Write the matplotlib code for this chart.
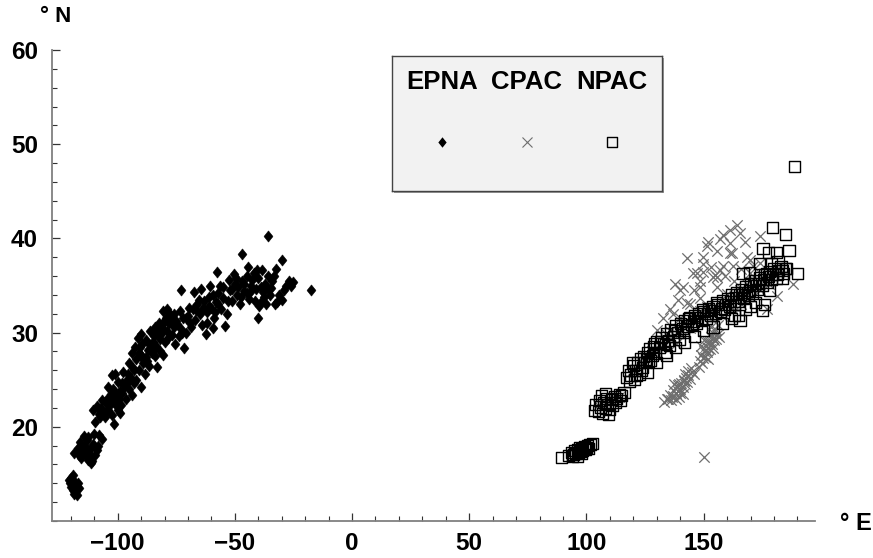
import matplotlib
matplotlib.use("Agg")
import matplotlib.pyplot as plt
from matplotlib.path import Path
from matplotlib.patches import Rectangle
from matplotlib.ticker import MultipleLocator, FixedLocator

plt.rcParams['font.family'] = ['Liberation Sans', 'DejaVu Sans']
plt.rcParams['font.weight'] = 'bold'

# ---------------- data (lon °E, lat °N) ----------------
series_names = ["EPNA", "CPAC", "NPAC"]

epna = [
    (-120.5, 14.0), (-120, 13.6), (-119.5, 13.9), (-119, 13.3), (-118.7, 12.9), (-119.8, 14.6),
    (-118.3, 13.6), (-119.2, 14.9), (-118, 13.1), (-120.8, 14.3), (-118.6, 14.2), (-117.5, 12.8),
    (-116.5, 13.5), (-117, 14.0),
    (-117, 17.8), (-116, 18.4), (-115, 17.3), (-114, 18.0), (-113.5, 17.0), (-112.5, 16.5),
    (-112, 17.6), (-111, 16.8), (-110.5, 18.2), (-109, 17.5), (-108, 19.1), (-114.5, 19.0),
    (-116.5, 17.0), (-113, 18.6), (-111.5, 16.2), (-110, 19.2), (-106.7, 18.7), (-115.5, 16.7),
    (-111, 16.4), (-118.5, 17.2), (-115.8, 17.9), (-113.2, 17.4), (-112.8, 18.9), (-109.8, 17.0),
    (-108.5, 18.0),
    (-110.5, 21.8), (-109.5, 20.5), (-109, 22.2), (-108, 21.4), (-107, 22.0), (-106, 21.5),
    (-105, 22.5), (-104, 21.8), (-103, 22.9), (-102.5, 21.2), (-101.5, 20.3), (-101, 22.4),
    (-100, 21.8), (-99.5, 23.0), (-98.5, 22.3), (-104, 24.2), (-102, 24.0), (-101, 25.6),
    (-100, 24.8), (-99, 23.8), (-98, 24.6), (-97, 24.3), (-96, 25.0), (-95, 24.0), (-94, 23.4),
    (-93, 24.6), (-97.5, 25.8), (-96.5, 23.0), (-103, 23.5), (-102.5, 25.5),
    (-107.5, 21.0), (-106.5, 22.8), (-105.5, 21.0), (-104.5, 23.0), (-103.5, 22.2), (-102, 22.8),
    (-100.5, 23.4), (-99, 21.5), (-98, 23.6), (-96, 24.6), (-95.5, 25.6), (-94.5, 25.2),
    (-95, 26.8), (-94, 27.8), (-93.5, 26.2), (-92.5, 28.5), (-92, 27.2), (-91, 26.0), (-90, 27.6),
    (-89.5, 28.8), (-89, 26.8), (-88, 27.4), (-87, 28.2), (-86.5, 26.5), (-85.5, 27.8), (-85, 29.0),
    (-84, 27.5), (-83, 26.3), (-82, 28.0), (-91.5, 29.4), (-90, 29.8), (-88.5, 25.6), (-86, 28.7),
    (-84.5, 29.6), (-80.5, 27.6), (-90, 24.2), (-93, 26.0), (-92, 25.0), (-91, 27.8), (-90.5, 28.5),
    (-89, 27.2), (-88, 29.2), (-87.5, 27.0), (-85, 28.2), (-83.5, 28.6),
    (-83, 30.2), (-82, 29.3), (-81, 30.8), (-80, 31.3), (-80, 29.0), (-79, 30.2), (-78, 31.0),
    (-77, 29.7), (-76, 30.6), (-75, 31.2), (-74, 29.6), (-73, 30.4), (-72, 31.6), (-71.5, 28.4),
    (-71, 30.0), (-70, 31.8), (-69, 31.0), (-79, 32.5), (-77.5, 32.0), (-75.5, 28.8), (-73.5, 32.3),
    (-80.6, 32.3), (-86, 30.2), (-84, 30.6), (-82.5, 31.0), (-81.5, 29.8), (-80.5, 30.4),
    (-79.5, 31.6), (-78.5, 29.4), (-77, 31.4), (-76, 32.0), (-74.5, 30.9), (-72.5, 30.0),
    (-71, 31.5),
    (-68, 32.5), (-67, 31.3), (-66, 33.0), (-65, 32.0), (-64, 30.8), (-63, 33.4), (-62.5, 29.8),
    (-62, 32.2), (-61, 33.8), (-60, 32.6), (-59, 31.5), (-58, 33.2), (-57, 34.2), (-56, 32.5),
    (-55, 33.7), (-54, 30.7), (-53.5, 32.0), (-67.5, 34.3), (-64.5, 34.6), (-60.5, 35.0),
    (-57.6, 36.4), (-59.5, 30.5), (-73, 34.5), (-69.5, 32.6), (-68.5, 30.6), (-66.5, 32.4),
    (-65.5, 33.5), (-63.5, 32.6), (-62, 31.0), (-61, 32.8), (-59.5, 34.0), (-58.5, 32.2),
    (-57, 33.0), (-56.5, 35.0), (-55, 34.8),
    (-52, 34.5), (-51, 33.4), (-50, 35.2), (-49, 34.0), (-48, 33.0), (-47, 35.5), (-46, 34.4),
    (-45, 36.0), (-44, 33.6), (-43, 35.0), (-42, 36.3), (-41, 34.6), (-40, 35.8), (-39, 33.2),
    (-38.5, 36.6), (-38, 34.3), (-37, 35.2), (-36, 36.0), (-35, 34.0), (-34, 35.5), (-33, 33.0),
    (-40, 31.6), (-39.5, 32.8), (-47, 38.3), (-35.8, 40.3), (-50.5, 36.2), (-44.5, 37.0),
    (-53, 33.4), (-52.5, 35.6), (-51, 34.6), (-49.5, 35.8), (-48.5, 34.8), (-47.5, 33.8),
    (-46, 35.2), (-45, 34.2), (-43.5, 34.3), (-42.5, 35.6), (-41.5, 33.4), (-40.5, 36.6),
    (-39, 34.8), (-37.5, 33.8), (-36, 34.6), (-34.5, 34.7), (-33.5, 36.0),
    (-31, 34.0), (-30, 33.5), (-29, 34.5), (-28, 35.0), (-27, 35.5), (-30, 37.7), (-17.5, 34.5),
    (-32.5, 36.8), (-36.5, 33.0), (-26, 35.0), (-25, 35.4), (-32, 33.2),
]

cpac = [
    (96, 17.4), (98, 17.7), (97, 17.2), (105, 22.3), (110, 22.8), (114, 23.2),
    # elongated cluster near 140E, 24N
    (133, 22.6), (134.5, 23.0), (135.5, 23.4), (136.5, 23.2), (137, 23.9), (138, 23.6),
    (138.5, 24.2), (139, 23.8), (139.5, 24.5), (140, 24.0), (140.5, 24.6), (141, 24.2),
    (141.5, 25.0), (142, 24.5), (142.5, 25.2), (143, 24.8), (143.5, 25.5), (144, 25.1),
    (145, 25.8), (146, 25.6), (137.5, 24.5), (141, 23.5), (139.5, 23.2), (144.5, 26.2),
    (136, 22.8), (142, 25.6), (137, 23.3), (139, 24.4), (140, 23.6), (141.8, 24.9),
    (143.2, 25.9), (138.2, 23.0), (135, 22.9),
    # elongated cluster near 152E, 28N
    (148.5, 27.0), (149, 27.6), (149.5, 26.8), (150, 28.0), (150.5, 27.4), (151, 28.6),
    (151.5, 27.9), (152, 29.0), (152.5, 28.3), (153, 29.5), (153.5, 28.8), (154, 30.0),
    (154.5, 29.2), (155, 30.4), (155.5, 29.7), (156, 30.8), (150, 29.2), (152, 27.2),
    (154, 28.4), (149, 28.6), (156.5, 29.5), (153, 30.6), (150.8, 28.2), (151.8, 28.4),
    (152.8, 29.0), (153.8, 29.4), (149.8, 27.3), (155.2, 29.3), (148.2, 26.4),
    # scattered above the band
    (130, 30.3), (132.6, 31.6), (135.6, 32.5), (136.9, 32.0), (135.6, 30.2), (137.7, 35.2),
    (139.9, 31.6), (140, 34.5), (141.1, 34.8), (142.9, 33.1), (142.9, 37.9), (144.1, 33.0),
    (145.4, 36.3), (147.1, 36.3), (148.4, 34.8), (148.4, 33.7), (148.4, 32.3), (148.4, 35.5),
    (149.7, 38.0), (149.7, 36.4), (149.7, 37.3), (151.4, 39.2), (151.4, 32.7), (151.8, 39.6),
    (154, 35.9), (154.8, 36.1), (155.6, 34.8), (155.6, 38.7), (155.6, 35.9), (157, 39.9),
    (157, 36.6), (158.2, 40.4), (158.2, 37.1), (160, 34.1), (161.2, 40.9), (161.2, 38.5),
    (161.2, 39.5), (162, 38.5), (162.5, 37.1), (164.2, 41.4), (165.5, 40.6), (165.5, 34.5),
    (167.6, 39.6), (168.4, 38.0), (168.4, 35.2), (169.7, 37.7), (169.7, 36.3), (171, 37.1),
    (174, 40.3), (174, 37.4), (177, 32.5), (181.2, 33.9), (188, 35.2), (139, 33.5),
    (146, 34.5), (153, 37.0), (159, 36.0), (163, 35.5), (166, 36.8),
    # along the NPAC band
    (120, 26.0), (124, 26.8), (128, 28.0), (132, 28.5), (136, 29.3), (140, 30.0), (144, 30.5),
    (146, 31.5), (158, 31.8), (162, 32.6), (166, 33.0), (170, 33.8), (174, 34.5), (178, 35.2),
    (125, 27.5), (134, 29.8), (138, 28.8), (142, 31.0),
    # outlier
    (150, 16.8),
]

npac = [
    (89.5, 16.7), (92.5, 17.0), (93.5, 17.3), (94.5, 17.1), (95, 17.5), (95.5, 17.2), (96, 17.6),
    (96.5, 17.3), (97, 17.8), (97.5, 17.4), (98, 17.7), (98.5, 17.5), (99, 17.9), (99.5, 17.6),
    (100, 17.8), (100.5, 18.0), (101, 17.7), (94, 16.9), (96, 16.9), (98, 17.2), (101.5, 18.1),
    (102.5, 18.2),
    (104, 22.4), (105, 21.6), (105.5, 22.8), (106, 22.1), (107, 21.4), (107.5, 22.6), (108, 22.0),
    (108.5, 23.0), (109, 22.4), (110, 21.8), (110.5, 22.9), (111, 22.3), (112, 23.2), (112.5, 22.6),
    (113, 23.0), (114, 23.4), (114.5, 22.8), (115, 23.3), (116, 23.6), (106.5, 23.3), (109.5, 21.3),
    (108, 23.5), (103.5, 21.7),
    (117, 25.2), (118, 26.0), (119, 25.5), (120, 26.5), (120.5, 25.0), (121, 26.0), (122, 26.8),
    (122.5, 25.6), (123, 27.2), (124, 26.3), (124.5, 27.5), (125, 26.8), (126, 27.9), (126.5, 26.9),
    (127, 28.3), (128, 27.6), (129, 28.8), (129.5, 27.8), (130, 29.1), (131, 28.4), (132, 29.5),
    (133, 28.8), (134, 29.9), (135, 29.2), (136, 30.3), (137, 29.6), (138, 30.8), (139, 30.0),
    (140, 31.0), (141, 30.4), (142, 31.3), (143, 30.7), (144, 31.6), (145, 30.9), (146, 31.8),
    (147, 31.0), (148, 32.0), (149, 31.3), (150, 32.2), (151, 31.5), (152, 32.5), (153, 31.8),
    (154, 32.8), (155, 32.0), (156, 33.0), (157, 32.2), (158, 33.4), (159, 32.5), (160, 33.6),
    (161, 32.8), (162, 34.0), (163, 33.0), (164, 34.2), (165, 33.3), (166, 34.6), (167, 33.6),
    (168, 34.9), (169, 33.9), (170, 35.2), (171, 34.2), (172, 35.5), (173, 34.6), (174, 35.8),
    (175, 35.0), (176, 36.2), (177, 35.3), (178, 36.5), (179, 35.6), (180, 36.8), (181, 35.8),
    (182, 36.6), (183, 37.0), (184, 36.3), (185, 36.8), (176, 33.0), (172, 33.2), (168, 32.5),
    (165, 31.8), (162, 31.5), (158, 31.0), (154, 30.6), (150, 30.2), (146, 29.6), (142, 29.0),
    (138, 28.4), (134, 27.6), (130, 26.8), (126, 25.8), (175, 32.3), (165.5, 31.3),
    (118.5, 24.8), (119.5, 26.8), (121.5, 25.4), (123.5, 26.0), (125.5, 27.2), (127.5, 27.0),
    (128.5, 28.5), (131.5, 29.0), (133.5, 27.9), (135.5, 28.6), (137.5, 30.2), (139.5, 29.3),
    (141.5, 30.0), (143.5, 31.5), (145.5, 31.2), (147.5, 31.6), (149.5, 32.4), (151.5, 32.0),
    (153.5, 32.3), (155.5, 33.2), (157.5, 32.6), (159.5, 33.0), (161.5, 33.3), (163.5, 33.7),
    (165.5, 34.0), (167.5, 34.3), (169.5, 34.5), (171.5, 35.0), (173.5, 35.2), (175.5, 35.6),
    (177.5, 36.0), (179.5, 36.2), (181.5, 36.2), (183.5, 35.8), (163, 31.8), (170, 32.8),
    (178, 34.5),
    (166.8, 36.3), (169.7, 36.4), (174, 37.3), (177, 36.3), (179, 37.3), (181.7, 37.5),
    (183.4, 36.6), (185.5, 36.8), (190, 36.3),
    (179.5, 41.2), (185, 40.4), (186.4, 38.7), (175.3, 38.9), (177.8, 38.5), (181.2, 38.5),
    (188.9, 47.6),
]

x_major = [-100, -50, 0, 50, 100, 150]
y_major = [20, 30, 40, 50, 60]
x_limits = (-128, 197.5)
y_limits = (10, 60)

# ---------------- figure ----------------
W, H = 873, 558
fig = plt.figure(figsize=(W / 100, H / 100), dpi=100)

def fig_rect(x0, y0, x1, y1):
    return [x0 / W, 1 - y1 / H, (x1 - x0) / W, (y1 - y0) / H]

ax = fig.add_axes(fig_rect(52, 50, 815, 521))
ax.set_facecolor('none')
ax.set_xlim(*x_limits)
ax.set_ylim(*y_limits)

for s in ('top', 'right'):
    ax.spines[s].set_visible(False)
for s in ('left', 'bottom'):
    ax.spines[s].set_color('#808080')
    ax.spines[s].set_linewidth(1.3)

ax.xaxis.set_major_locator(FixedLocator(x_major))
ax.xaxis.set_minor_locator(MultipleLocator(10))
ax.yaxis.set_major_locator(FixedLocator(y_major))
ax.yaxis.set_minor_locator(MultipleLocator(2))
ax.tick_params(which='major', direction='in', length=6, width=0.9, color='#333333',
               labelsize=17.5, pad=8)
ax.tick_params(which='minor', direction='in', length=3.5, width=0.8, color='#333333')
ax.tick_params(axis='y', which='major', pad=10)

diamond = Path([(0, 1), (0.8, 0), (0, -1), (-0.8, 0), (0, 1)],
               [Path.MOVETO, Path.LINETO, Path.LINETO, Path.LINETO, Path.CLOSEPOLY])

ex, ey = zip(*epna)
cx, cy = zip(*cpac)
nx, ny = zip(*npac)

ax.scatter(ex, ey, marker=diamond, s=64, c='black', edgecolors='black', linewidths=0.4,
           zorder=2, clip_on=False)
ax.scatter(cx, cy, marker='x', s=56, c='#6e6e6e', linewidths=0.9, zorder=3, clip_on=False)
ax.scatter(nx, ny, marker='s', s=64, facecolors='none', edgecolors='black', linewidths=1.0,
           zorder=4, clip_on=False)

# axis unit labels
fig.text(56 / W, 1 - 17 / H, "° N", ha='center', va='center', fontsize=16)
fig.text(856 / W, 1 - 524 / H, "° E", ha='center', va='center', fontsize=17)

# ---------------- legend box ----------------
shadow = Rectangle(((392 + 1.5) / W, 1 - (191 + 1.5) / H), 270 / W, 135 / H,
                   transform=fig.transFigure, facecolor='#999999', edgecolor='none', zorder=5)
fig.add_artist(shadow)
lax = fig.add_axes(fig_rect(392, 56, 662, 191))
lax.set_zorder(6)
lax.set_facecolor('#f2f2f2')
lax.set_xlim(0, 1)
lax.set_ylim(0, 1)
lax.set_xticks([])
lax.set_yticks([])
for s in lax.spines.values():
    s.set_color('#444444')
    s.set_linewidth(1.0)

leg_x = [0.185, 0.5, 0.815]
for xp, name in zip(leg_x, series_names):
    lax.text(xp, 0.805, name, ha='center', va='center', fontsize=18.5)
lax.scatter([leg_x[0]], [0.363], marker=diamond, s=56, c='black', linewidths=0)
lax.scatter([leg_x[1]], [0.363], marker='x', s=52, c='#6e6e6e', linewidths=0.8)
lax.scatter([leg_x[2]], [0.363], marker='s', s=58, facecolors='none', edgecolors='black',
            linewidths=1.0)

fig.savefig("out.png", dpi=100)
